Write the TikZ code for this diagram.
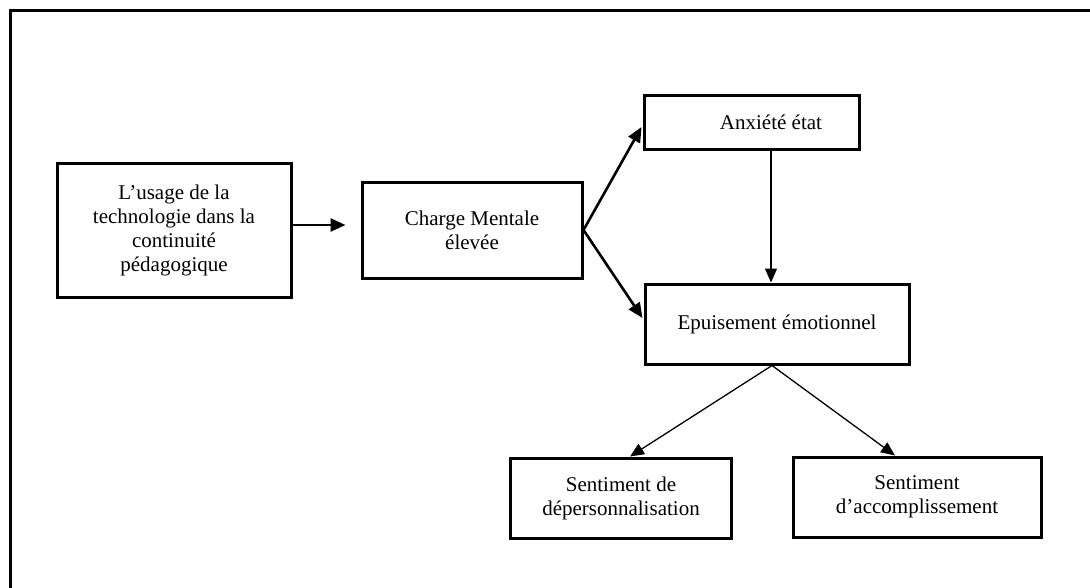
\documentclass[tikz,border=0pt]{standalone}
\usepackage{fontspec}
\setmainfont{Liberation Serif}
\usetikzlibrary{arrows.meta,calc}
\begin{document}
\begin{tikzpicture}[x=1pt,y=-1pt,
  box/.style={draw,line width=3pt,inner sep=0pt,align=center,font=\fontsize{21}{24}\selectfont},
  thickarrow/.style={line width=2.6pt,-{Triangle[length=15pt,width=13pt]}},
  thinarrow/.style={line width=1.3pt,-{Triangle[length=14pt,width=12pt]}}]
\useasboundingbox (0,0) rectangle (1090,587);
\draw[line width=3pt] (10,590) -- (10,10) -- (1093,10);
\node[box,minimum width=234pt,minimum height=134pt] (use) at (174,230) {L’usage de la\\technologie dans la\\continuité\\pédagogique};
\node[box,minimum width=220pt,minimum height=96pt] (charge) at (472,230) {Charge Mentale\\élevée};
\node[box,minimum width=215pt,minimum height=54pt] (anx) at (751.5,122) {\hspace*{39pt}Anxiété état};
\node[box,minimum width=264pt,minimum height=80pt] (ep) at (777,324) {Epuisement émotionnel};
\node[box,minimum width=221pt,minimum height=80pt] (dep) at (621,498) {Sentiment de\\dépersonnalisation};
\node[box,minimum width=248pt,minimum height=80pt] (acc) at (917,497) {Sentiment\\d’accomplissement};
\draw[thickarrow] ($(use.east)+(0,-5)$) -- ($(charge.west)+(-15,-5)$);
\draw[thickarrow] (charge.east) -- ($(anx.west)+(-1,5)$);
\draw[thickarrow] (charge.east) -- ($(ep.west)+(-1,-6)$);
\draw[thinarrow] ($(anx.south)+(19.5,0)$) -- ($(ep.north)+(-6,0)$);
\draw[thinarrow] ($(ep.south)+(-5,0)$) -- ($(dep.north)+(9,0)$);
\draw[thinarrow] ($(ep.south)+(-5,0)$) -- ($(acc.north)+(-22,0)$);
\end{tikzpicture}
\end{document}
